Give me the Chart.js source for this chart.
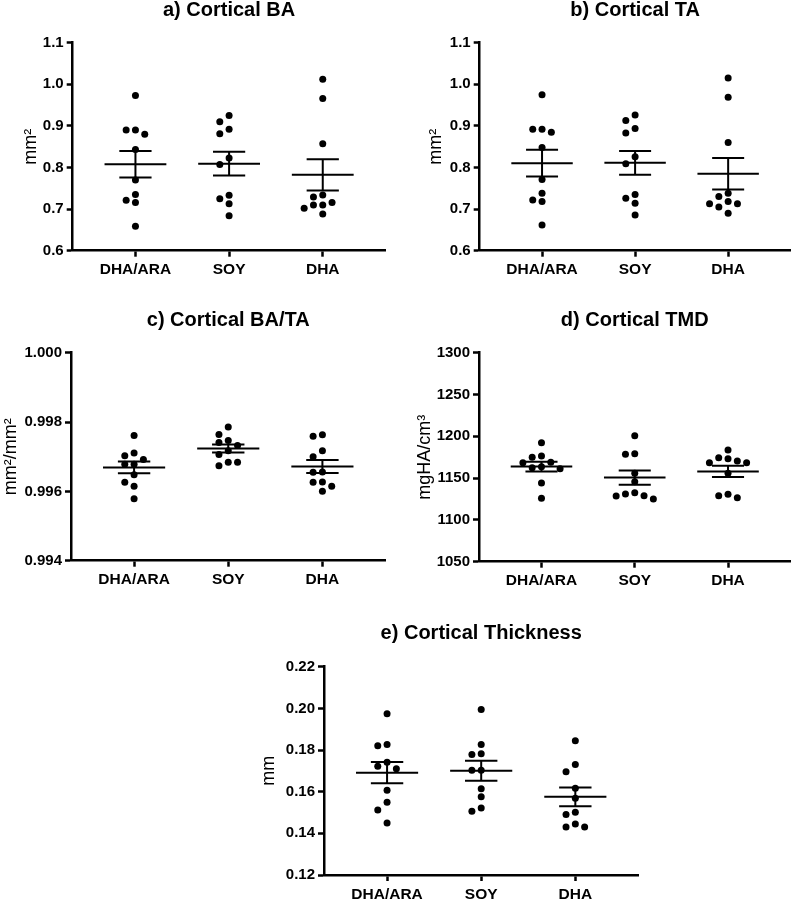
<!DOCTYPE html>
<html><head><meta charset="utf-8">
<script src="https://cdn.jsdelivr.net/npm/chart.js@4.4.1/dist/chart.umd.min.js"></script>
<style>
html,body{margin:0;padding:0;background:#fff;}
#wrap{position:relative;width:793px;height:900px;overflow:hidden;background:#fff;}
canvas{position:absolute;}
</style></head><body><div id="wrap"></div>
<script>
// ---------- data ----------
const groups = ['DHA/ARA', 'SOY', 'DHA'];

const baDhaAra = [0.973, 0.890, 0.890, 0.880, 0.843, 0.770, 0.735, 0.721, 0.716, 0.659];
const baSoy    = [0.925, 0.910, 0.892, 0.881, 0.823, 0.807, 0.733, 0.725, 0.713, 0.684];
const baDha    = [1.012, 0.966, 0.857, 0.734, 0.729, 0.716, 0.710, 0.710, 0.702, 0.688];

const taDhaAra = [0.975, 0.892, 0.892, 0.885, 0.848, 0.771, 0.738, 0.722, 0.718, 0.662];
const taSoy    = [0.926, 0.913, 0.894, 0.883, 0.826, 0.809, 0.735, 0.726, 0.714, 0.686];
const taDha    = [1.015, 0.969, 0.860, 0.738, 0.730, 0.718, 0.713, 0.713, 0.705, 0.690];

const ratioDhaAra = [0.99761, 0.99711, 0.99703, 0.99692, 0.99678, 0.99678, 0.99648, 0.99626, 0.99615, 0.99579];
const ratioSoy    = [0.99786, 0.99764, 0.99747, 0.99741, 0.99732, 0.99717, 0.99706, 0.99684, 0.99684, 0.99674];
const ratioDha    = [0.99763, 0.99759, 0.99717, 0.99700, 0.99656, 0.99655, 0.99627, 0.99626, 0.99615, 0.99600];

const tmdDhaAra = [1192.3, 1176.4, 1174.9, 1168.9, 1168.4, 1163.6, 1162.4, 1161.2, 1144.1, 1125.8];
const tmdSoy    = [1200.7, 1179.2, 1178.4, 1155.7, 1145.7, 1132.5, 1131.0, 1129.0, 1128.6, 1125.0];
const tmdDha    = [1183.6, 1174.4, 1173.2, 1170.5, 1168.4, 1168.4, 1155.7, 1130.6, 1129.0, 1126.6];

const thDhaAra = [0.1974, 0.1827, 0.1821, 0.1741, 0.1722, 0.1710, 0.1607, 0.1549, 0.1512, 0.1450];
const thSoy    = [0.1995, 0.1827, 0.1782, 0.1778, 0.1703, 0.1703, 0.1614, 0.1576, 0.1522, 0.1506];
const thDha    = [0.1845, 0.1731, 0.1696, 0.1616, 0.1568, 0.1501, 0.1490, 0.1445, 0.1430, 0.1430];

const baTicks    = [0.6, 0.7, 0.8, 0.9, 1.0, 1.1];
const taTicks    = [0.6, 0.7, 0.8, 0.9, 1.0, 1.1];
const ratioTicks = [0.994, 0.996, 0.998, 1.000];
const tmdTicks   = [1050, 1100, 1150, 1200, 1250, 1300];
const thTicks    = [0.12, 0.14, 0.16, 0.18, 0.20, 0.22];

// ---------- layout / style ----------
const FONT = "'Liberation Sans', Arial, Helvetica, sans-serif";
Chart.defaults.font.family = FONT;
Chart.defaults.color = '#000';

const panels = [
  {title: 'a) Cortical BA', yTitle: 'mm²', series: [baDhaAra, baSoy, baDha], ticks: baTicks, dec: 1,
   cL: 0, cT: 0, chartL: 72.7, chartR: 386, chartT: 42.7, chartB: 250.7, yTitleC: 31},
  {title: 'b) Cortical TA', yTitle: 'mm²', series: [taDhaAra, taSoy, taDha], ticks: taTicks, dec: 1,
   cL: 393, cT: 0, chartL: 479.7, chartR: 790.5, chartT: 42.7, chartB: 250.7, yTitleC: 43},
  {title: 'c) Cortical BA/TA', yTitle: 'mm²/mm²', series: [ratioDhaAra, ratioSoy, ratioDha], ticks: ratioTicks, dec: 3,
   cL: 0, cT: 310, chartL: 71, chartR: 386, chartT: 352.7, chartB: 560.7, yTitleC: 10.8},
  {title: 'd) Cortical TMD', yTitle: 'mgHA/cm³', series: [tmdDhaAra, tmdSoy, tmdDha], ticks: tmdTicks, dec: 0,
   cL: 393, cT: 310, chartL: 479, chartR: 791, chartT: 352.7, chartB: 561.7, yTitleC: 32},
  {title: 'e) Cortical Thickness', yTitle: 'mm', series: [thDhaAra, thSoy, thDha], ticks: thTicks, dec: 2,
   cL: 240, cT: 623, chartL: 324, chartR: 638.4, chartT: 666.7, chartB: 875, yTitleC: 28.7}
];

const X_MIN = -0.67, X_MAX = 2.67;
const DOT_R = 3.5, STEP_PX = 9.3, MIN_DY = 7.8;
const MEAN_HALF = 0.33, SEM_HALF = 0.172;

function mean(a) { return a.reduce((s, v) => s + v, 0) / a.length; }
function sem(a) {
  const m = mean(a);
  const sd = Math.sqrt(a.reduce((s, v) => s + (v - m) * (v - m), 0) / (a.length - 1));
  return sd / Math.sqrt(a.length);
}

function swarm(vals, idx, xs, ys) {
  const order = vals.map((v, k) => k).sort((a, b) => vals[b] - vals[a]);
  const unit = xs.getPixelForValue(1) - xs.getPixelForValue(0);
  const slots = [0, -1, 1, -2, 2, -3, 3, -4, 4, -5, 5];
  const placed = [];
  const out = new Array(vals.length);
  order.forEach(k => {
    const py = ys.getPixelForValue(vals[k]);
    const s = slots.find(sl => !placed.some(p => p.slot === sl && Math.abs(p.py - py) < MIN_DY));
    placed.push({slot: s, py});
    out[k] = {x: idx + s * STEP_PX / unit, y: vals[k]};
  });
  return out;
}

function makeMeanSem(series) {
  return {
    id: 'meanSem',
    afterDatasetsDraw(chart) {
      const {ctx} = chart;
      const xs = chart.scales.x, ys = chart.scales.y;
      ctx.save();
      ctx.strokeStyle = '#000';
      ctx.lineWidth = 2;
      series.forEach((vals, i) => {
        const m = mean(vals), se = sem(vals);
        const yM = ys.getPixelForValue(m), yL = ys.getPixelForValue(m - se), yH = ys.getPixelForValue(m + se);
        const xc = xs.getPixelForValue(i);
        const mh = xs.getPixelForValue(i + MEAN_HALF) - xc;
        const sh = xs.getPixelForValue(i + SEM_HALF) - xc;
        ctx.beginPath();
        ctx.moveTo(xc - mh, yM); ctx.lineTo(xc + mh, yM);
        ctx.moveTo(xc - sh, yH); ctx.lineTo(xc + sh, yH);
        ctx.moveTo(xc - sh, yL); ctx.lineTo(xc + sh, yL);
        ctx.moveTo(xc, yH); ctx.lineTo(xc, yL);
        ctx.stroke();
      });
      ctx.restore();
    }
  };
}

const wrap = document.getElementById('wrap');

panels.forEach(p => {
  const W = Math.ceil(p.chartR - p.cL + 3);
  const H = Math.ceil(p.chartB - p.cT + 38);
  const padRight = W - (p.chartR - p.cL);
  const yW = p.chartL - p.cL;
  const xH = H - (p.chartB - p.cT);
  const titleBottom = p.chartT - p.cT - 20;
  const yTitlePad = p.yTitleC - 18 * 1.2 / 2;

  const cv = document.createElement('canvas');
  cv.width = W; cv.height = H;
  cv.style.left = p.cL + 'px'; cv.style.top = p.cT + 'px';
  cv.style.width = W + 'px'; cv.style.height = H + 'px';
  wrap.appendChild(cv);

  const tickArr = p.ticks;
  const chart = new Chart(cv, {
    type: 'scatter',
    data: {
      datasets: p.series.map((vals, i) => ({
        label: groups[i],
        data: vals.map(v => ({x: i, y: v})),
        backgroundColor: '#000',
        borderColor: '#000',
        borderWidth: 0,
        pointRadius: DOT_R,
        pointHoverRadius: DOT_R,
        clip: false
      }))
    },
    options: {
      responsive: false,
      animation: false,
      events: [],
      layout: {padding: {left: 0, top: 0, bottom: 0, right: padRight}},
      plugins: {
        legend: {display: false},
        tooltip: {enabled: false},
        title: {
          display: true, text: p.title, fullSize: false,
          color: '#000',
          font: {family: FONT, size: 20, weight: 'bold', lineHeight: 1},
          padding: {top: 0, bottom: titleBottom}
        }
      },
      scales: {
        x: {
          type: 'linear', min: X_MIN, max: X_MAX,
          afterBuildTicks: s => { s.ticks = groups.map((g, i) => ({value: i})); },
          afterFit: s => { s.height = xH; },
          ticks: {
            callback: v => groups[v],
            font: {family: FONT, size: 15.5, weight: 'bold'},
            color: '#000', padding: 4, maxRotation: 0, autoSkip: false
          },
          grid: {drawOnChartArea: false, drawTicks: true, tickLength: 6, tickWidth: 2.5, tickColor: '#000', color: '#000'},
          border: {display: true, width: 2.5, color: '#000'}
        },
        y: {
          type: 'linear', min: tickArr[0], max: tickArr[tickArr.length - 1],
          afterBuildTicks: s => { s.ticks = tickArr.map(v => ({value: v})); },
          afterFit: s => { s.width = yW; },
          ticks: {
            callback: v => Number(v).toFixed(p.dec),
            font: {family: FONT, size: 15, weight: 'bold'},
            color: '#000', padding: 3, autoSkip: false
          },
          grid: {drawOnChartArea: false, drawTicks: true, tickLength: 6, tickWidth: 2.5, tickColor: '#000', color: '#000'},
          border: {display: true, width: 2.5, color: '#000'},
          title: {
            display: true, text: p.yTitle, color: '#000',
            font: {family: FONT, size: 18, weight: 'normal', lineHeight: 1.2},
            padding: {top: yTitlePad, bottom: 0}
          }
        }
      }
    },
    plugins: [makeMeanSem(p.series)]
  });

  const xs = chart.scales.x, ys = chart.scales.y;
  p.series.forEach((vals, i) => {
    chart.data.datasets[i].data = swarm(vals, i, xs, ys);
  });
  chart.update('none');
});
</script>
</body></html>
